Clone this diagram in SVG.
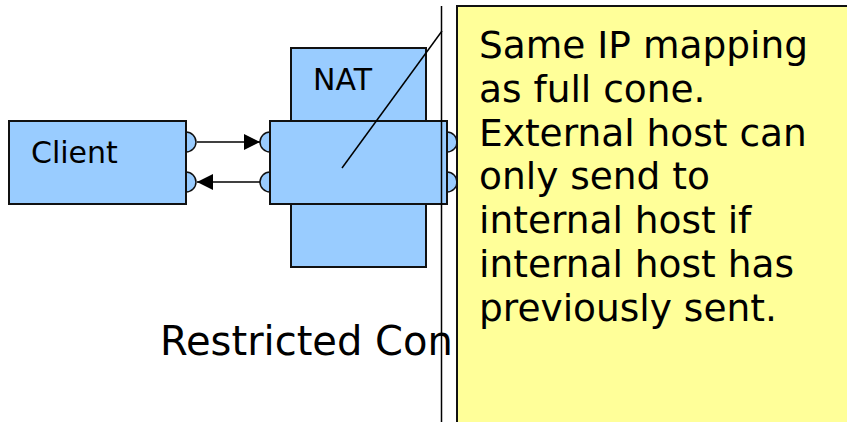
<svg xmlns="http://www.w3.org/2000/svg" width="847" height="422" viewBox="0 0 847 422">
<style>
.box{fill:#99ccff;stroke:#111;stroke-width:2}
.bump{fill:#99ccff;stroke:#111;stroke-width:1.5}
.t{font-family:"DejaVu Sans","Liberation Sans",sans-serif;fill:#000}
.ln{stroke:#000;stroke-width:1.5;fill:none}
</style>
<defs>
<marker id="ah" markerUnits="userSpaceOnUse" markerWidth="16" markerHeight="16" refX="16" refY="8" orient="auto">
<path d="M0,0 L16,8 L0,16 Z" fill="#000"/>
</marker>
</defs>
<rect width="847" height="422" fill="#fff"/>
<g id="client">
<path class="bump" d="M186,132 A10,10 0 0 1 186,152 Z"/>
<path class="bump" d="M186,172 A10,10 0 0 1 186,192 Z"/>
<rect class="box" x="9" y="121" width="177" height="83"/>
<text class="t" x="31" y="163" font-size="30">Client</text>
</g>
<g id="nat">
<rect class="box" x="291" y="48" width="135" height="219"/>
<text class="t" x="313" y="90" font-size="30">NAT</text>
<path class="bump" d="M270,132 A10,10 0 0 0 270,152 Z"/>
<path class="bump" d="M270,172 A10,10 0 0 0 270,192 Z"/>
<path class="bump" d="M447,132 A10,10 0 0 1 447,152 Z"/>
<path class="bump" d="M447,172 A10,10 0 0 1 447,192 Z"/>
<rect class="box" x="270" y="121" width="177" height="83"/>
</g>
<g id="title">
<text class="t" x="160" y="355" font-size="40">Restricted Con</text>
</g>
<g id="connectors">
<line class="ln" x1="197" y1="142" x2="260" y2="142" marker-end="url(#ah)"/>
<line class="ln" x1="260" y1="182" x2="197" y2="182" marker-end="url(#ah)"/>
<line class="ln" x1="442" y1="31" x2="342" y2="168"/>
<line class="ln" x1="441.5" y1="6" x2="441.5" y2="422"/>
</g>
<g id="note">
<rect x="457" y="6" width="400" height="430" fill="#ffff99" stroke="#111" stroke-width="2"/>
<text class="t" font-size="37.5">
<tspan x="479" y="58">Same IP mapping</tspan>
<tspan x="479" y="102">as full cone.</tspan>
<tspan x="479" y="146">External host can</tspan>
<tspan x="479" y="189">only send to</tspan>
<tspan x="479" y="233">internal host if</tspan>
<tspan x="479" y="277">internal host has</tspan>
<tspan x="479" y="321">previously sent.</tspan>
</text>
</g>
</svg>
